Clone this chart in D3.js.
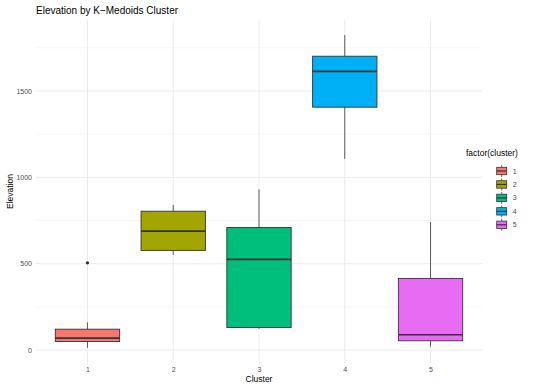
<!DOCTYPE html>
<html>
<head>
<meta charset="utf-8">
<script src="https://cdn.jsdelivr.net/npm/d3@7"></script>
<style>
  body { margin: 0; background: #fff; }
  svg { font-family: "Liberation Sans", Arial, sans-serif; }
</style>
</head>
<body>
<svg id="chart" width="550" height="388"></svg>
<script>
// values
var clusters = ["1", "2", "3", "4", "5"];
var lowerWhisker = [13, 551, 123, 1107, 19];
var q1 = [50, 577, 131, 1406, 54];
var median = [69, 689, 525, 1613, 89];
var q3 = [121, 804, 710, 1701, 415];
var upperWhisker = [160, 841, 930, 1823, 742];
var outliers = [{cluster: "1", value: 505}];
var yTicks = [0, 500, 1000, 1500];
var yMinor = [250, 750, 1250, 1750];
var colors = ["#F8766D", "#A3A500", "#00BF7D", "#00B0F6", "#E76BF3"];

var svg = d3.select("#chart");
// panel edges (note: "top" is reserved on window, so use other names)
var pLeft = 36, pRight = 482, pTop = 19.5, pBottom = 363.5;

var lo = d3.min(lowerWhisker), hi = d3.max(upperWhisker);
var pad = (hi - lo) * 0.05;

var x = d3.scalePoint().domain(clusters).range([pLeft, pRight]).padding(0.6);
var y = d3.scaleLinear().domain([lo - pad, hi + pad]).range([pBottom, pTop]);
var color = d3.scaleOrdinal().domain(clusters).range(colors);
var boxW = x.step() * 0.75;

// grid
var grid = svg.append("g");
grid.selectAll(".minor").data(yMinor).enter().append("line")
  .attr("x1", pLeft).attr("x2", pRight)
  .attr("y1", function (d) { return y(d); }).attr("y2", function (d) { return y(d); })
  .attr("stroke", "#f2f2f2").attr("stroke-width", 0.6);
grid.selectAll(".major").data(yTicks).enter().append("line")
  .attr("x1", pLeft).attr("x2", pRight)
  .attr("y1", function (d) { return y(d); }).attr("y2", function (d) { return y(d); })
  .attr("stroke", "#ebebeb").attr("stroke-width", 1);
grid.selectAll(".vert").data(clusters).enter().append("line")
  .attr("x1", function (d) { return x(d); }).attr("x2", function (d) { return x(d); })
  .attr("y1", pTop).attr("y2", pBottom)
  .attr("stroke", "#ebebeb").attr("stroke-width", 1);

// axes (text only, theme_minimal)
var yAxis = svg.append("g").attr("transform", "translate(" + (pLeft - 2) + ",0)")
  .call(d3.axisLeft(y).tickValues(yTicks).tickFormat(d3.format("d")).tickSize(0).tickPadding(2));
yAxis.select(".domain").remove();
yAxis.selectAll("text").attr("fill", "#4d4d4d").style("font-size", "7px");

var xAxis = svg.append("g").attr("transform", "translate(0," + (pBottom + 2) + ")")
  .call(d3.axisBottom(x).tickSize(0).tickPadding(2));
xAxis.select(".domain").remove();
xAxis.selectAll("text").attr("fill", "#4d4d4d").style("font-size", "7px");

// boxes
var boxes = svg.append("g").selectAll("g").data(clusters).enter().append("g");

boxes.append("line")
  .attr("x1", function (d) { return x(d); }).attr("x2", function (d) { return x(d); })
  .attr("y1", function (d, i) { return y(q3[i]); })
  .attr("y2", function (d, i) { return y(upperWhisker[i]); })
  .attr("stroke", "#333").attr("stroke-width", 0.8);
boxes.append("line")
  .attr("x1", function (d) { return x(d); }).attr("x2", function (d) { return x(d); })
  .attr("y1", function (d, i) { return y(q1[i]); })
  .attr("y2", function (d, i) { return y(lowerWhisker[i]); })
  .attr("stroke", "#333").attr("stroke-width", 0.8);
boxes.append("rect")
  .attr("x", function (d) { return x(d) - boxW / 2; })
  .attr("width", boxW)
  .attr("y", function (d, i) { return y(q3[i]); })
  .attr("height", function (d, i) { return y(q1[i]) - y(q3[i]); })
  .attr("fill", function (d) { return color(d); })
  .attr("stroke", "#333").attr("stroke-width", 0.9);
boxes.append("line")
  .attr("x1", function (d) { return x(d) - boxW / 2; })
  .attr("x2", function (d) { return x(d) + boxW / 2; })
  .attr("y1", function (d, i) { return y(median[i]); })
  .attr("y2", function (d, i) { return y(median[i]); })
  .attr("stroke", "#333").attr("stroke-width", 1.7);

svg.append("g").selectAll("circle").data(outliers).enter().append("circle")
  .attr("cx", function (d) { return x(d.cluster); })
  .attr("cy", function (d) { return y(d.value); })
  .attr("r", 1.7).attr("fill", "#333");

// titles
svg.append("text").attr("x", pLeft).attr("y", 14)
  .style("font-size", "10px").attr("fill", "#000")
  .text("Elevation by K\u2212Medoids Cluster");
svg.append("text").attr("x", (pLeft + pRight) / 2).attr("y", 382)
  .attr("text-anchor", "middle").style("font-size", "8.5px").attr("fill", "#000")
  .text("Cluster");
svg.append("text")
  .attr("transform", "translate(13," + ((pTop + pBottom) / 2) + ") rotate(-90)")
  .attr("text-anchor", "middle").style("font-size", "8.5px").attr("fill", "#000")
  .text("Elevation");

// legend
var legend = svg.append("g");
legend.append("text").attr("x", 466).attr("y", 156)
  .style("font-size", "8.5px").attr("fill", "#000").text("factor(cluster)");
var key = legend.selectAll(".key").data(clusters).enter().append("g")
  .attr("transform", function (d, i) { return "translate(501.7," + (171 + i * 13.45) + ")"; });
key.append("line").attr("x1", 0).attr("x2", 0).attr("y1", -6).attr("y2", 6)
  .attr("stroke", "#333").attr("stroke-width", 0.7);
key.append("rect").attr("x", -5).attr("y", -3.7).attr("width", 10).attr("height", 7.4)
  .attr("fill", function (d) { return color(d); })
  .attr("stroke", "#333").attr("stroke-width", 0.8);
key.append("line").attr("x1", -5).attr("x2", 5).attr("y1", 0).attr("y2", 0)
  .attr("stroke", "#333").attr("stroke-width", 1.2);
key.append("text").attr("x", 11).attr("y", 2.5)
  .style("font-size", "7px").attr("fill", "#4d4d4d")
  .text(function (d) { return d; });
</script>
</body>
</html>
